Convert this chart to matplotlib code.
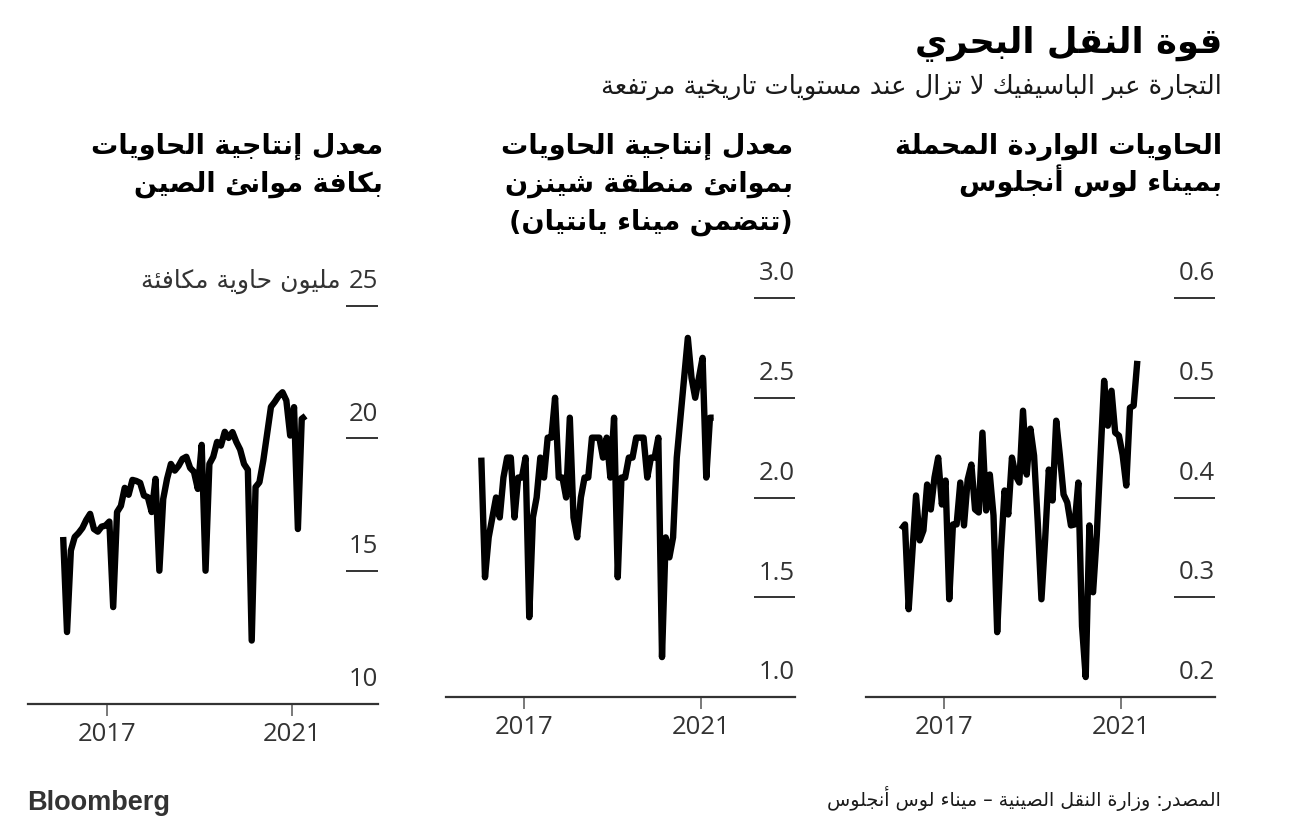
import numpy as np
import matplotlib
matplotlib.use("Agg")
import matplotlib.pyplot as plt
from matplotlib.transforms import offset_copy

# ---------------- data (monthly, starting Jan 2016) ----------------
start_year = 2016
china_ports = [16.29, 12.71, 15.78, 16.29, 16.44, 16.63, 16.93, 17.16, 16.59, 16.49, 16.68, 16.72,
               16.87, 13.65, 17.23, 17.46, 18.14, 17.88, 18.44, 18.40, 18.33, 17.85, 17.79, 17.23,
               18.48, 15.02, 17.72, 18.48, 19.04, 18.79, 18.97, 19.23, 19.31, 18.89, 18.74, 18.10,
               19.76, 15.02, 19.04, 19.31, 19.87, 19.73, 20.25, 20.02, 20.24, 19.87, 19.58, 19.04,
               18.82, 12.39, 18.17, 18.35, 19.16, 20.17, 21.19, 21.38, 21.60, 21.74, 21.43, 20.11,
               21.18, 16.59, 20.74, 20.85]
shenzhen_ports = [2.2, 1.6, 1.8, 1.9, 2.0, 1.9, 2.1, 2.2, 2.2, 1.9, 2.1, 2.1,
                  2.2, 1.4, 1.9, 2.0, 2.2, 2.1, 2.3, 2.3, 2.5, 2.1, 2.1, 2.0,
                  2.4, 1.9, 1.8, 2.0, 2.1, 2.1, 2.3, 2.3, 2.3, 2.2, 2.3, 2.1,
                  2.4, 1.6, 2.1, 2.1, 2.2, 2.2, 2.3, 2.3, 2.3, 2.1, 2.2, 2.2,
                  2.3, 1.2, 1.8, 1.7, 1.8, 2.2, 2.4, 2.6, 2.8, 2.6, 2.5, 2.6,
                  2.7, 2.1, 2.4, 2.4]
la_loaded_imports = [0.368, 0.373, 0.288, 0.345, 0.402, 0.357, 0.367, 0.413, 0.388, 0.420, 0.440, 0.393,
                     0.417, 0.298, 0.373, 0.373, 0.415, 0.372, 0.418, 0.433, 0.388, 0.385, 0.465, 0.387,
                     0.423, 0.382, 0.265, 0.345, 0.407, 0.383, 0.440, 0.422, 0.415, 0.487, 0.423, 0.469,
                     0.442, 0.375, 0.298, 0.358, 0.428, 0.397, 0.477, 0.442, 0.403, 0.395, 0.372, 0.373,
                     0.415, 0.271, 0.220, 0.372, 0.305, 0.362, 0.440, 0.517, 0.472, 0.507, 0.465, 0.462,
                     0.443, 0.412, 0.490, 0.492, 0.537]

china_yticks = [10, 15, 20, 25]
china_ylabels = ["10", "15", "20", "25"]
shenzhen_yticks = [1.0, 1.5, 2.0, 2.5, 3.0]
shenzhen_ylabels = ["1.0", "1.5", "2.0", "2.5", "3.0"]
la_yticks = [0.2, 0.3, 0.4, 0.5, 0.6]
la_ylabels = ["0.2", "0.3", "0.4", "0.5", "0.6"]
xtick_years = [2017, 2021]
xtick_labels = ["2017", "2021"]

title = "قوة النقل البحري"
subtitle = "التجارة عبر الباسيفيك لا تزال عند مستويات تاريخية مرتفعة"
china_title = ["معدل إنتاجية الحاويات", "بكافة موانئ الصين"]
shenzhen_title = ["معدل إنتاجية الحاويات", "بموانئ منطقة شينزن", "(تتضمن ميناء يانتيان)"]
la_title = ["الحاويات الواردة المحملة", "بميناء لوس أنجلوس"]
china_unit = "مليون حاوية مكافئة"
source = "المصدر: وزارة النقل الصينية – ميناء لوس أنجلوس"

# ---------------- minimal Arabic shaping (presentation forms + RTL) ----------------
FORMS = {
    '\u0621': ('\uFE80',),
    '\u0622': ('\uFE81', '\uFE82'), '\u0623': ('\uFE83', '\uFE84'),
    '\u0624': ('\uFE85', '\uFE86'), '\u0625': ('\uFE87', '\uFE88'),
    '\u0626': ('\uFE89', '\uFE8A', '\uFE8B', '\uFE8C'),
    '\u0627': ('\uFE8D', '\uFE8E'),
    '\u0628': ('\uFE8F', '\uFE90', '\uFE91', '\uFE92'),
    '\u0629': ('\uFE93', '\uFE94'),
    '\u062A': ('\uFE95', '\uFE96', '\uFE97', '\uFE98'),
    '\u062B': ('\uFE99', '\uFE9A', '\uFE9B', '\uFE9C'),
    '\u062C': ('\uFE9D', '\uFE9E', '\uFE9F', '\uFEA0'),
    '\u062D': ('\uFEA1', '\uFEA2', '\uFEA3', '\uFEA4'),
    '\u062E': ('\uFEA5', '\uFEA6', '\uFEA7', '\uFEA8'),
    '\u062F': ('\uFEA9', '\uFEAA'), '\u0630': ('\uFEAB', '\uFEAC'),
    '\u0631': ('\uFEAD', '\uFEAE'), '\u0632': ('\uFEAF', '\uFEB0'),
    '\u0633': ('\uFEB1', '\uFEB2', '\uFEB3', '\uFEB4'),
    '\u0634': ('\uFEB5', '\uFEB6', '\uFEB7', '\uFEB8'),
    '\u0635': ('\uFEB9', '\uFEBA', '\uFEBB', '\uFEBC'),
    '\u0636': ('\uFEBD', '\uFEBE', '\uFEBF', '\uFEC0'),
    '\u0637': ('\uFEC1', '\uFEC2', '\uFEC3', '\uFEC4'),
    '\u0638': ('\uFEC5', '\uFEC6', '\uFEC7', '\uFEC8'),
    '\u0639': ('\uFEC9', '\uFECA', '\uFECB', '\uFECC'),
    '\u063A': ('\uFECD', '\uFECE', '\uFECF', '\uFED0'),
    '\u0641': ('\uFED1', '\uFED2', '\uFED3', '\uFED4'),
    '\u0642': ('\uFED5', '\uFED6', '\uFED7', '\uFED8'),
    '\u0643': ('\uFED9', '\uFEDA', '\uFEDB', '\uFEDC'),
    '\u0644': ('\uFEDD', '\uFEDE', '\uFEDF', '\uFEE0'),
    '\u0645': ('\uFEE1', '\uFEE2', '\uFEE3', '\uFEE4'),
    '\u0646': ('\uFEE5', '\uFEE6', '\uFEE7', '\uFEE8'),
    '\u0647': ('\uFEE9', '\uFEEA', '\uFEEB', '\uFEEC'),
    '\u0648': ('\uFEED', '\uFEEE'),
    '\u0649': ('\uFEEF', '\uFEF0'),
    '\u064A': ('\uFEF1', '\uFEF2', '\uFEF3', '\uFEF4'),
}
LAM_ALEF = {'\u0622': ('\uFEF5', '\uFEF6'), '\u0623': ('\uFEF7', '\uFEF8'),
            '\u0625': ('\uFEF9', '\uFEFA'), '\u0627': ('\uFEFB', '\uFEFC')}
MIRROR = {'(': ')', ')': '(', '[': ']', ']': '[', '«': '»', '»': '«'}


def _dual(c):
    return c in FORMS and len(FORMS[c]) == 4


def _joining(c):
    return c in FORMS and len(FORMS[c]) >= 2


def shape(text):
    out = []
    i = 0
    n = len(text)
    while i < n:
        c = text[i]
        prev = text[i - 1] if i > 0 else ''
        jp = _dual(prev)
        if c == '\u0644' and i + 1 < n and text[i + 1] in LAM_ALEF:
            out.append(LAM_ALEF[text[i + 1]][1 if jp else 0])
            i += 2
            continue
        if c in FORMS:
            f = FORMS[c]
            nxt = text[i + 1] if i + 1 < n else ''
            jn = _dual(c) and _joining(nxt)
            if jp and jn:
                out.append(f[3])
            elif jp:
                out.append(f[1] if len(f) > 1 else f[0])
            elif jn:
                out.append(f[2])
            else:
                out.append(f[0])
        else:
            out.append(c)
        i += 1
    vis = ''.join(MIRROR.get(ch, ch) for ch in reversed(out))
    return vis


# ---------------- figure ----------------
W, H = 1296, 828
fig = plt.figure(figsize=(W / 100, H / 100), dpi=100)
fig.patch.set_facecolor("white")

AR = ["DejaVu Sans"]
NUM = ["Open Sans", "DejaVu Sans"]
TXT = "#333333"


def fx(x):
    return x / W


def fy(y):
    return 1 - y / H


def add_panel(left, right, top, bottom, xlim, ylim, yticks, ylabels, data, tickfrac):
    ax = fig.add_axes([fx(left), fy(bottom), fx(right - left), (bottom - top) / H])
    x = start_year + (np.arange(len(data)) + 0.5) / 12.0
    ax.plot(x, data, color="black", lw=4.6, solid_joinstyle="round",
            solid_capstyle="butt", clip_on=False, zorder=3)
    ax.set_xlim(*xlim)
    ax.set_ylim(*ylim)
    for s in ("left", "right", "top"):
        ax.spines[s].set_visible(False)
    ax.spines["bottom"].set_color("#333333")
    ax.spines["bottom"].set_linewidth(1.6)
    ax.set_yticks([])
    ax.set_xticks(xtick_years)
    ax.set_xticklabels(xtick_labels, fontfamily=NUM, fontsize=18.5, color=TXT)
    ax.tick_params(axis="x", direction="out", length=8.5, width=1.1, color="#555555", pad=4)
    ax.set_facecolor("none")
    ytr = ax.get_yaxis_transform()
    for v, lab in zip(yticks, ylabels):
        if v != ylim[0]:
            ax.plot([tickfrac, 1.0], [v, v], transform=ytr, color="#333333", lw=1.4,
                    clip_on=False, solid_capstyle="butt")
        t = offset_copy(ytr, fig=fig, x=0, y=13.5, units="points")
        ax.text(1.0, v, lab, transform=t, ha="right", va="baseline",
                fontfamily=NUM, fontsize=18.5, color=TXT)
    return ax


ax_c = add_panel(28, 378, 306.7, 705, (2015.28, 2022.86), (10, 25),
                 china_yticks, china_ylabels, china_ports, 0.909)
ax_s = add_panel(446, 795, 299, 698, (2015.244, 2023.13), (1.0, 3.0),
                 shenzhen_yticks, shenzhen_ylabels, shenzhen_ports, 0.883)
ax_l = add_panel(866, 1215, 299, 698, (2015.244, 2023.13), (0.2, 0.6),
                 la_yticks, la_ylabels, la_loaded_imports, 0.883)

# unit label next to "25"
t = offset_copy(ax_c.get_yaxis_transform(), fig=fig, x=0, y=13.5, units="points")
ax_c.text((341 - 28) / 350, 25, shape(china_unit), transform=t, ha="right", va="baseline",
          fontfamily=AR, fontsize=18, color=TXT)

# titles
fig.text(fx(1222), fy(53), shape(title), ha="right", va="baseline",
         fontfamily=AR, fontweight="bold", fontsize=25.5, color="black")
fig.text(fx(1222), fy(94), shape(subtitle), ha="right", va="baseline",
         fontfamily=AR, fontsize=18.5, color="#1a1a1a")


def panel_title(xr, lines):
    for k, line in enumerate(lines):
        fig.text(fx(xr), fy(154 + 38 * k), shape(line), ha="right", va="baseline",
                 fontfamily=AR, fontweight="bold", fontsize=19.5, color="black")


panel_title(1222, la_title)
panel_title(793, shenzhen_title)
panel_title(383, china_title)

# footer
fig.text(fx(27), fy(810), "Bloomberg", ha="left", va="baseline",
         fontfamily=["Liberation Sans", "DejaVu Sans"], fontweight="bold", fontsize=19.5, color="#333333")
fig.text(fx(1221), fy(806), shape(source), ha="right", va="baseline",
         fontfamily=AR, fontsize=13.7, color="#1a1a1a")

fig.savefig("out.png", dpi=100, facecolor="white")
